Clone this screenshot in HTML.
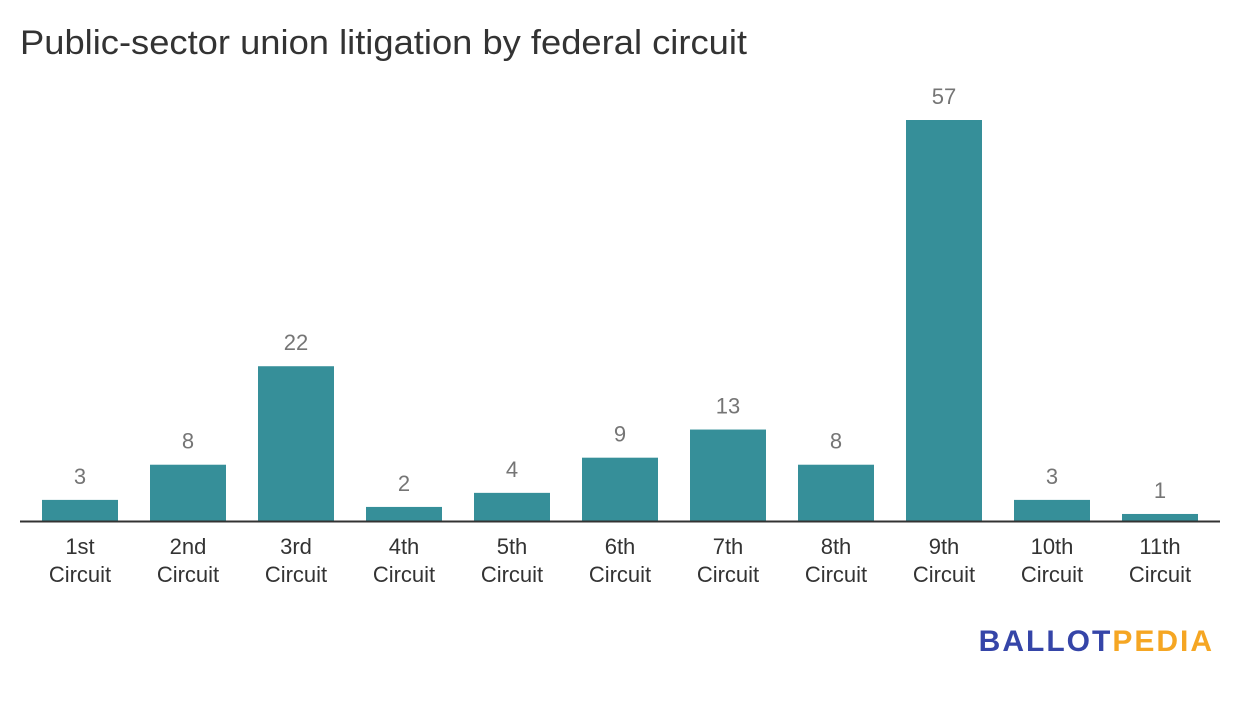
<!DOCTYPE html>
<html><head><meta charset="utf-8"><style>
body{margin:0;background:#fff;width:1240px;height:706px;overflow:hidden;font-family:"Liberation Sans",sans-serif}
</style></head><body>
<svg width="1240" height="706">
<text x="20" y="54" font-size="34" fill="#333" textLength="727" lengthAdjust="spacingAndGlyphs">Public-sector union litigation by federal circuit</text>
<g id="bars"></g>
<line x1="20" x2="1220" y1="521.5" y2="521.5" stroke="#333" stroke-width="2"/>
<text x="1214" y="651" text-anchor="end" font-size="30" font-weight="bold" letter-spacing="2"><tspan fill="#3545a8">BALLOT</tspan><tspan fill="#f5a623">PEDIA</tspan></text>
</svg>
<script>
const categories=["1st","2nd","3rd","4th","5th","6th","7th","8th","9th","10th","11th"];
const values=[3,8,22,2,4,9,13,8,57,3,1];
const g=document.getElementById('bars');
const ns='http://www.w3.org/2000/svg';
const base=521, scale=401/57;
function x(i){return 42+i*108;}
function y(v){return base-v*scale;}
categories.forEach((c,i)=>{
  const r=document.createElementNS(ns,'rect');
  
  
  r.setAttribute('x',x(i));r.setAttribute('width',76);
  r.setAttribute('y',y(values[i]));r.setAttribute('height',base-y(values[i]));
  r.setAttribute('fill','#368f99');g.appendChild(r);
  const t=document.createElementNS(ns,'text');
  
  
  t.setAttribute('x',x(i)+38);t.setAttribute('y',y(values[i])-16);
  t.setAttribute('text-anchor','middle');t.setAttribute('font-size','22');t.setAttribute('fill','#757575');
  t.textContent=values[i];g.appendChild(t);
  const l=document.createElementNS(ns,'text');
  
  
  l.setAttribute('x',x(i)+38);l.setAttribute('y',554);
  l.setAttribute('text-anchor','middle');l.setAttribute('font-size','22');l.setAttribute('fill','#333');
  const a=document.createElementNS(ns,'tspan');a.setAttribute('x',x(i)+38);a.textContent=c;
  const b=document.createElementNS(ns,'tspan');b.setAttribute('x',x(i)+38);b.setAttribute('dy','28');b.textContent='Circuit';
  l.appendChild(a);l.appendChild(b);g.appendChild(l);
});
</script>
</body></html>
